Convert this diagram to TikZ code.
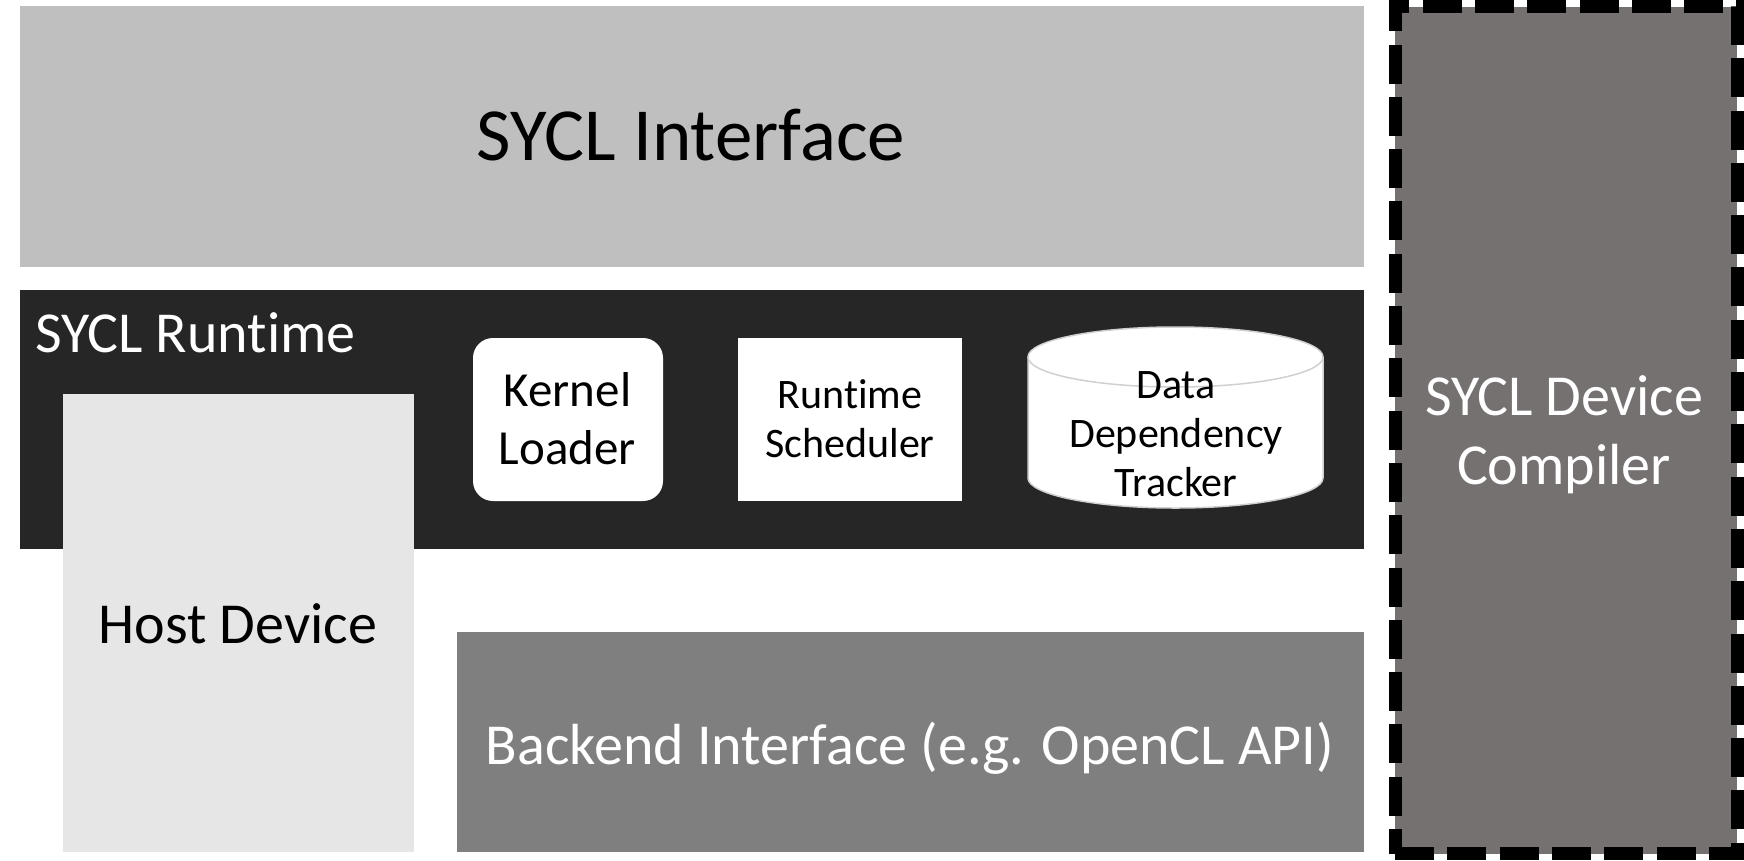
\documentclass[tikz,border=0pt]{standalone}
\usepackage{fontspec}
\setmainfont{Carlito}[Ligatures={NoCommon}]
\definecolor{ifacegray}{HTML}{BFBFBF}
\definecolor{rtblack}{HTML}{262626}
\definecolor{hostgray}{HTML}{E6E6E6}
\definecolor{backgray}{HTML}{7F7F7F}
\definecolor{compgray}{HTML}{767171}
\definecolor{cylline}{HTML}{D0D0D0}
\newcommand{\fs}[2]{\fontsize{#1}{#2}\selectfont}
\newcommand{\lines}[1]{\begin{tabular}[t]{@{}c@{}}#1\end{tabular}}
\tikzset{
  block/.style={inner sep=0pt, outer sep=0pt, draw=none},
  txt/.style={inner sep=0pt, outer sep=0pt, anchor=base},
}
\begin{document}
\begin{tikzpicture}[x=1pt, y=-1pt]
\useasboundingbox (0,0) rectangle (1744,860);
\fill[white] (0,0) rectangle (1744,860);
% SYCL Interface
\node[block, fill=ifacegray, minimum width=1344pt, minimum height=261pt] (iface) at (692,136.5) {};
\node[txt, text=black] (ifacet) at (691,160) {\fs{75}{90}SYCL Interface};
% SYCL Runtime
\node[block, fill=rtblack, minimum width=1344pt, minimum height=259pt] (rt) at (692,419.5) {};
\node[txt, anchor=base west, text=white] (rtt) at (35,352) {\fs{58}{70}SYCL Runtime};
% Host Device
\node[block, fill=hostgray, minimum width=351pt, minimum height=458pt] (host) at (238.5,623) {};
\node[txt, text=black] (hostt) at (238,643) {\fs{58}{70}Host Device};
% Backend
\node[block, fill=backgray, minimum width=907pt, minimum height=220pt] (back) at (910.5,742) {};
\node[txt, text=white] (backt) at (910,764) {\fs{58}{70}Backend Interface (e.g. OpenCL API)};
% Kernel Loader
\node[block, fill=white, rounded corners=20pt, minimum width=190pt, minimum height=163pt] (kl) at (568,419.5) {};
\node[txt, text=black] (klt) at (567.5,406) {\fs{49}{58}\lines{Kernel\\Loader}};
% Runtime Scheduler
\node[block, fill=white, minimum width=224pt, minimum height=163pt] (rs) at (850,419.5) {};
\node[txt, text=black] (rst) at (850,408) {\fs{42}{49}\lines{Runtime\\Scheduler}};
% Data Dependency Tracker (cylinder)
\fill[white] (1028,357) rectangle (1323,478);
\fill[white] (1175.5,478) ellipse [x radius=147.5pt, y radius=30pt];
\fill[white] (1175.5,357) ellipse [x radius=147.5pt, y radius=30pt];
\draw[cylline, line width=1.5pt] (1028,357) -- (1028,478)
  arc[start angle=180, end angle=360, x radius=147.5pt, y radius=30pt] -- (1323,357);
\draw[cylline, line width=1.5pt] (1175.5,357) ellipse [x radius=147.5pt, y radius=30pt];
\node[txt, text=black] (ddt) at (1176,398) {\fs{42}{49}\lines{Data\\Dependency\\Tracker}};
% SYCL Device Compiler
\node[block, fill=compgray, draw=black, line width=13pt, line join=miter,
  dash pattern=on 39pt off 13.3pt, minimum width=342pt, minimum height=847pt] (comp) at (1566,430) {};
\node[txt, text=white] (compt) at (1564,415) {\fs{58}{69}\lines{SYCL Device\\Compiler}};
\end{tikzpicture}
\end{document}
